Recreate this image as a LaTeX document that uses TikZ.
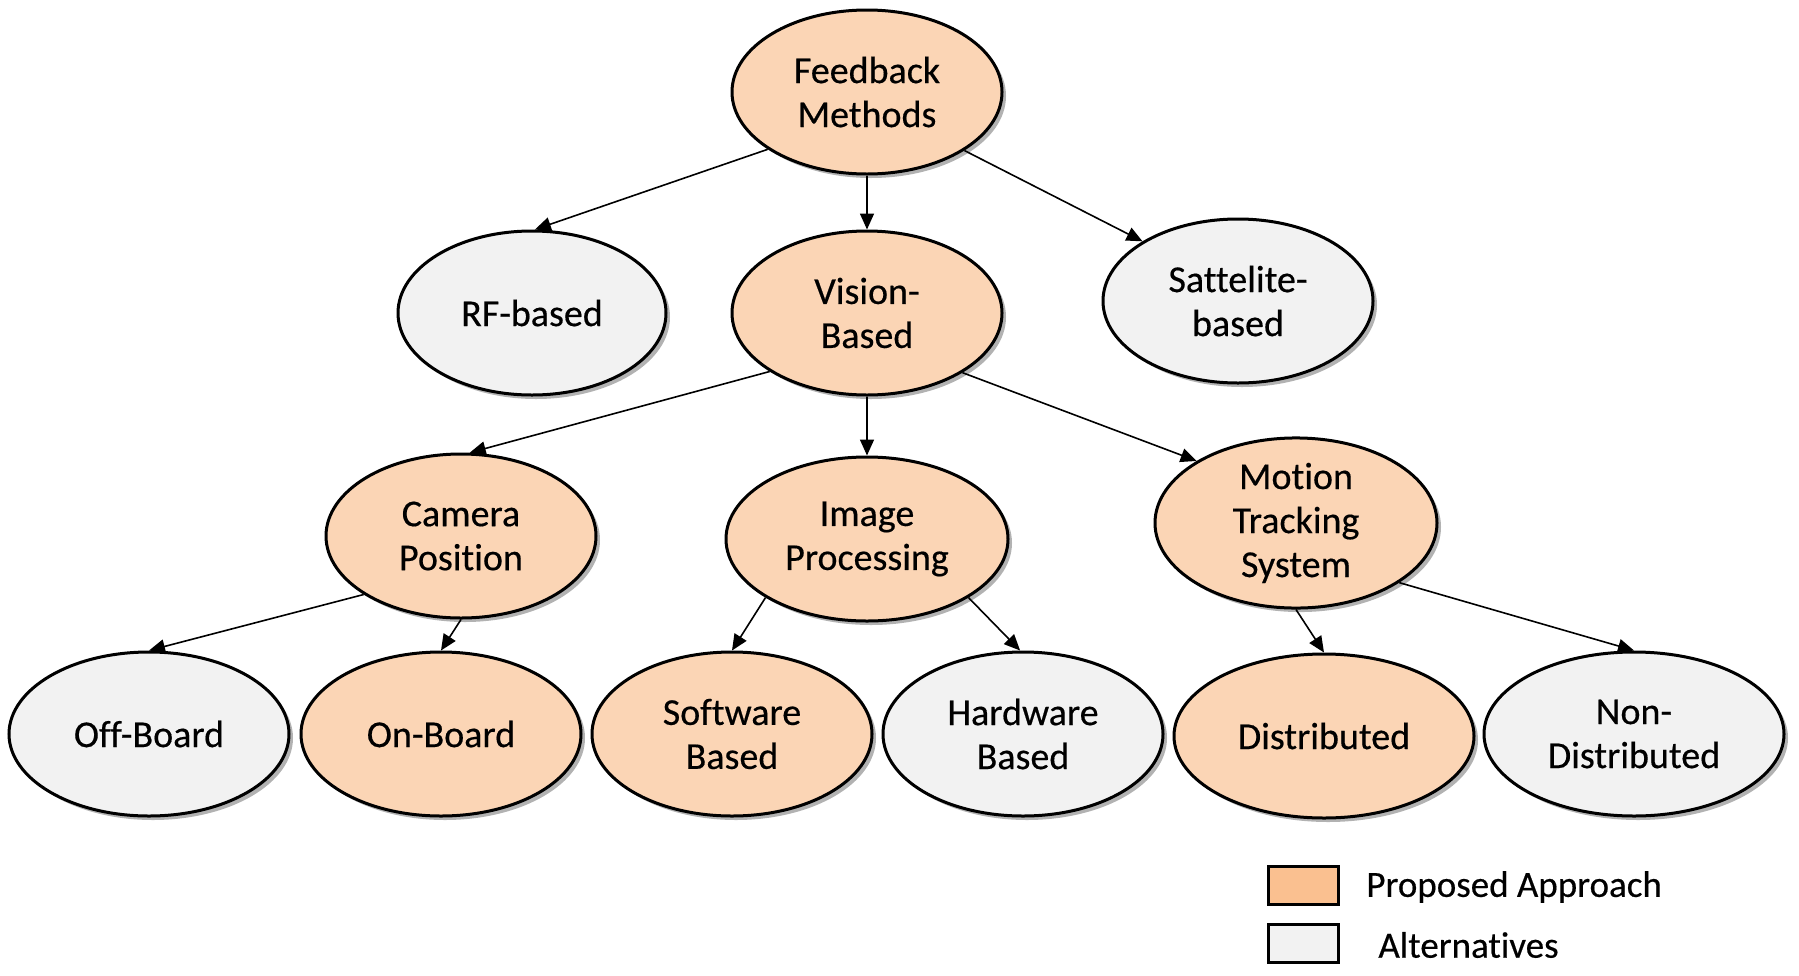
\documentclass[tikz,border=0pt]{standalone}
\usepackage{fontspec}
\setmainfont[Ligatures=NoCommon, FakeBold=0.4]{Carlito}
\usetikzlibrary{shapes.geometric,arrows.meta,shadows}
\definecolor{peach}{HTML}{FBD5B5}
\definecolor{peachleg}{HTML}{FAC090}
\definecolor{altgray}{HTML}{F2F2F2}
\tikzset{
  ell/.style={ellipse, draw=black, line width=1.5pt, inner sep=0pt, align=center,
    font=\fontsize{19}{22}\selectfont,
    drop shadow={shadow xshift=2pt, shadow yshift=-2pt, fill=black, opacity=0.3}},
  prop/.style={ell, fill=peach},
  alt/.style={ell, fill=altgray},
  conn/.style={-{Triangle[length=8pt,width=7pt]}, line width=0.8pt},
  legbox/.style={draw=black, line width=1.5pt, minimum width=35pt, minimum height=19pt, inner sep=0pt},
  legtext/.style={anchor=west, inner sep=0pt, font=\fontsize{18.5}{22}\selectfont},
}
\begin{document}
\begin{tikzpicture}[x=0.5pt,y=-0.5pt]
\useasboundingbox (0,0) rectangle (1799,975);
\node[prop, minimum width=135pt, minimum height=82pt] (fm) at (867,92) {Feedback\\Methods};
\node[alt, minimum width=134pt, minimum height=82pt] (rf) at (532,313) {RF-based};
\node[prop, minimum width=135pt, minimum height=82pt] (vb) at (867,313) {Vision-\\Based};
\node[alt, minimum width=135pt, minimum height=82pt] (sb) at (1238,301) {Sattelite-\\based};
\node[prop, minimum width=135pt, minimum height=82pt] (cp) at (461,536) {Camera\\Position};
\node[prop, minimum width=141pt, minimum height=82pt] (ip) at (867,539) {Image\\Processing};
\node[prop, minimum width=141pt, minimum height=83pt] (mt) at (1296,523) {Motion\\Tracking\\System};
\node[alt, minimum width=140pt, minimum height=82pt] (ob) at (149,734) {Off-Board};
\node[prop, minimum width=140pt, minimum height=82pt] (onb) at (441,734) {On-Board};
\node[prop, minimum width=140pt, minimum height=82pt] (swb) at (732,734) {Software\\Based};
\node[alt, minimum width=140pt, minimum height=82pt] (hwb) at (1023,734) {Hardware\\Based};
\node[prop, minimum width=150pt, minimum height=82pt] (dist) at (1324,736) {Distributed};
\node[alt, minimum width=150pt, minimum height=82pt] (nd) at (1634,734) {Non-\\Distributed};

\draw[conn] (fm.210) -- (rf.88);
\draw[conn] (fm.south) -- (vb.north);
\draw[conn] (fm.329) -- (sb.148);
\draw[conn] (vb.211) -- (cp.84);
\draw[conn] (vb.south) -- (ip.north);
\draw[conn] (vb.328) -- (mt.148);
\draw[conn] (cp.211) -- (ob.north);
\draw[conn] (cp.south) -- (onb.north);
\draw[conn] (ip.210) -- (swb.north);
\draw[conn] (ip.330) -- (hwb.92);
\draw[conn] (mt.south) -- (dist.north);
\draw[conn] (mt.330) -- (nd.north);

\node[legbox, fill=peachleg] (lp) at (1303,885) {};
\node[legtext] (lpt) at (1366,887) {Proposed Approach};
\node[legbox, fill=altgray] (la) at (1303,943) {};
\node[legtext] (lat) at (1378,945) {Alternatives};
\end{tikzpicture}
\end{document}
